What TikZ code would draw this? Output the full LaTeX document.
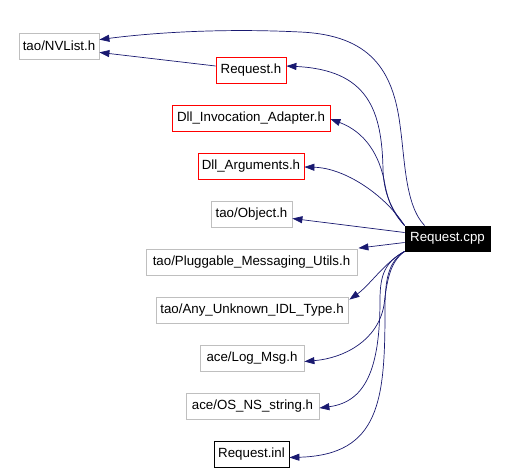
\documentclass[tikz,border=0pt]{standalone}
\usepackage{fontspec}
\setmainfont{Liberation Sans}
\usetikzlibrary{arrows.meta,calc}
\definecolor{edgeblue}{HTML}{191970}
\definecolor{boxgray}{HTML}{BFBFBF}
\definecolor{boxred}{HTML}{FF0000}
\tikzset{
  filebox/.style={draw, line width=0.8pt, inner sep=0pt, minimum height=26pt, font=\fontsize{13.3}{15}\selectfont},
  graybox/.style={filebox, draw=boxgray},
  redbox/.style={filebox, draw=boxred},
  blackbox/.style={filebox, draw=black},
  mainbox/.style={filebox, draw=black, fill=black, text=white},
  edge/.style={draw=edgeblue, line width=0.7pt, -{Triangle[length=10pt,width=7pt,fill=edgeblue]}}
}
\begin{document}
\begin{tikzpicture}[x=1pt,y=-1pt]
\useasboundingbox (0,0) rectangle (507,472);
\node[graybox, minimum width=80pt] (nvlist) at (59,46) {tao/NVList.h};
\node[redbox, minimum width=70pt] (reqh) at (251,70) {Request.h};
\node[redbox, minimum width=158pt] (dia) at (251,118) {Dll\_Invocation\_Adapter.h};
\node[redbox, minimum width=106pt] (darg) at (251,166) {Dll\_Arguments.h};
\node[graybox, minimum width=81pt] (obj) at (251.5,214.5) {tao/Object.h};
\node[graybox, minimum width=211pt] (plug) at (251.5,262.5) {tao/Pluggable\_Messaging\_Utils.h};
\node[graybox, minimum width=192pt] (any) at (252,310) {tao/Any\_Unknown\_IDL\_Type.h};
\node[graybox, minimum width=104pt] (log) at (252,358.5) {ace/Log\_Msg.h};
\node[graybox, minimum width=133pt] (os) at (252.5,406) {ace/OS\_NS\_string.h};
\node[blackbox, minimum width=75pt] (inl) at (251.5,454.5) {Request.inl};
\node[mainbox, minimum width=85pt, minimum height=25pt] (cpp) at (447.5,238.5) {Request.cpp};

% edges
\draw[edge] ($(cpp.north west)+(20,0)$) .. controls (405,205) and (405,160) .. (400,125)
  .. controls (393,70) and (370,35) .. (300,32)
  .. controls (220,28) and (150,33) .. ($(nvlist.north east)+(0,7)$);
\draw[edge] ($(reqh.west)+(0,-4)$) -- ($(nvlist.south east)+(0,-7)$);
\draw[edge] (cpp.north west) .. controls (392,210) and (384,195) .. (383,170)
  .. controls (382,110) and (368,70) .. ($(reqh.east)+(0,-4)$);
\draw[edge] (cpp.north west) .. controls (392,212) and (388,200) .. (385,185)
  .. controls (380,155) and (365,132) .. ($(dia.east)+(0,1)$);
\draw[edge] (cpp.north west) .. controls (385,195) and (345,168) .. ($(darg.east)+(0,1)$);
\draw[edge] ($(cpp.west)+(0,-6)$) -- ($(obj.east)+(0,4)$);
\draw[edge] ($(cpp.west)+(0,4)$) -- ($(plug.north east)+(1,-1)$);
\draw[edge] (cpp.south west) .. controls (385,262) and (370,285) .. ($(any.north east)+(1,3)$);
\draw[edge] (cpp.south west) .. controls (390,262) and (387,280) .. (384,305)
  .. controls (378,340) and (345,358) .. ($(log.east)+(0,3)$);
\draw[edge] (cpp.south west) .. controls (385,262) and (380,275) .. (380,300)
  .. controls (380,370) and (365,402) .. ($(os.east)+(0,2)$);
\draw[edge] (cpp.south west) .. controls (388,262) and (385,280) .. (385,310)
  .. controls (385,400) and (380,455) .. ($(inl.east)+(0,3)$);
\end{tikzpicture}
\end{document}
